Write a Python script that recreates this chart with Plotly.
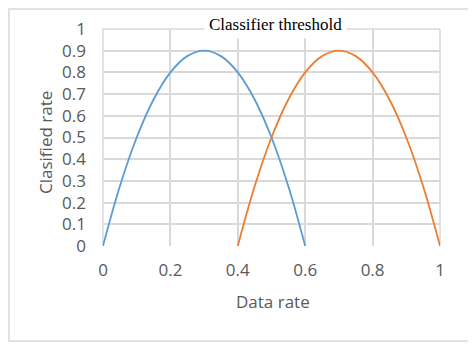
import plotly.graph_objects as go

# valores
x_azul = [0, 0.05, 0.1, 0.15, 0.2, 0.25, 0.3, 0.35, 0.4, 0.45, 0.5, 0.55, 0.6]
y_azul = [0, 0.275, 0.5, 0.675, 0.8, 0.875, 0.9, 0.875, 0.8, 0.675, 0.5, 0.275, 0]
x_laranja = [0.4, 0.45, 0.5, 0.55, 0.6, 0.65, 0.7, 0.75, 0.8, 0.85, 0.9, 0.95, 1]
y_laranja = [0, 0.275, 0.5, 0.675, 0.8, 0.875, 0.9, 0.875, 0.8, 0.675, 0.5, 0.275, 0]

x_ticks = [0, 0.2, 0.4, 0.6, 0.8, 1]
x_labels = ["0", "0.2", "0.4", "0.6", "0.8", "1"]
y_ticks = [0, 0.1, 0.2, 0.3, 0.4, 0.5, 0.6, 0.7, 0.8, 0.9, 1]
y_labels = ["0", "0.1", "0.2", "0.3", "0.4", "0.5", "0.6", "0.7", "0.8", "0.9", "1"]

fonte = "Open Sans, Noto Sans, sans-serif"
cinza = "#595959"
grade = "#D9D9D9"

fig = go.Figure()
fig.add_trace(go.Scatter(x=x_azul, y=y_azul, mode="lines",
                         line=dict(color="#5B9BD5", width=1.8, shape="spline", smoothing=1.0)))
fig.add_trace(go.Scatter(x=x_laranja, y=y_laranja, mode="lines",
                         line=dict(color="#ED7D31", width=1.8, shape="spline", smoothing=1.0)))

# a página tem 8px de margem no body, por isso as margens já descontam isso
fig.update_layout(
    width=476, height=347,
    margin=dict(l=95, r=44, t=21, b=109),
    paper_bgcolor="white", plot_bgcolor="white",
    showlegend=False,
    font=dict(family=fonte, size=17, color=cinza),
    xaxis=dict(range=[0, 1], tickvals=x_ticks, ticktext=x_labels,
               showgrid=True, gridcolor=grade, gridwidth=1.5, automargin=False,
               zeroline=False, showline=False, ticks="", ticklabelstandoff=12),
    yaxis=dict(range=[0, 1], tickvals=y_ticks, ticktext=y_labels,
               showgrid=True, gridcolor=grade, gridwidth=1.5, automargin=False,
               zeroline=False, showline=False, ticks="", ticklabelstandoff=16),
    shapes=[
        dict(type="line", xref="paper", yref="paper", x0=0, x1=0, y0=0, y1=1,
             line=dict(color=grade, width=1.5), layer="below"),
        dict(type="line", xref="paper", yref="paper", x0=1, x1=1, y0=0, y1=1,
             line=dict(color=grade, width=1.5), layer="below"),
        dict(type="line", xref="paper", yref="paper", x0=0, x1=1, y0=1, y1=1,
             line=dict(color=grade, width=1.5), layer="below"),
        dict(type="rect", xref="paper", yref="paper",
             x0=-0.279, x1=1.089, y0=-0.4378, y1=1.092,
             line=dict(color=grade, width=1.5)),
    ],
    annotations=[
        dict(text="Classifier threshold", xref="paper", yref="paper",
             x=0.513, y=1.023, xanchor="center", yanchor="middle",
             showarrow=False, bgcolor="white",
             font=dict(family="Liberation Serif, Times New Roman, serif", size=17, color="black"),
             borderpad=4),
        dict(text="Data rate", xref="paper", yref="paper",
             x=0.503, y=-0.258, xanchor="center", yanchor="middle", showarrow=False,
             font=dict(family=fonte, size=17, color=cinza)),
        dict(text="Clasified rate", xref="paper", yref="paper",
             x=-0.169, y=0.475, xanchor="center", yanchor="middle",
             showarrow=False, textangle=-90,
             font=dict(family=fonte, size=17, color=cinza)),
    ],
)

fig.write_html("out.html")
